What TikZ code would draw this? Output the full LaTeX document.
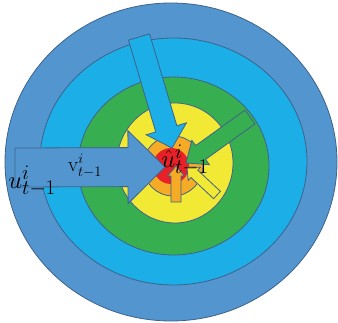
\documentclass[tikz,border=0pt]{standalone}
\usepackage{tikz}
\usetikzlibrary{calc}
\definecolor{outerblue}{RGB}{83,149,207}
\definecolor{skyblue}{RGB}{28,175,231}
\definecolor{ringgreen}{RGB}{55,175,80}
\definecolor{ringyellow}{RGB}{241,233,52}
\definecolor{ringorange}{RGB}{245,171,38}
\definecolor{ringred}{RGB}{232,33,40}
\definecolor{edgeblue}{RGB}{62,98,140}

% block arrow: fill, tail, tip, shaft half width, head half width, head length
\newcommand{\fatarrow}[6]{%
  \coordinate (fa-base) at ($(#3)!#6!(#2)$);
  \filldraw[edge, fill=#1]
    ($(#2)!#4!90:(#3)$) -- ($(fa-base)!#4!-90:(#2)$) -- ($(fa-base)!#5!-90:(#2)$)
    -- (#3) -- ($(fa-base)!#5!90:(#2)$) -- ($(fa-base)!#4!90:(#2)$)
    -- ($(#2)!#4!-90:(#3)$) -- cycle;}

\begin{document}
\begin{tikzpicture}[
    x=1pt, y=-1pt,
    edge/.style={
        draw=edgeblue,
        line width=0.8pt,
        line join=miter
    },
    biglabel/.style={
        inner sep=0pt,
        font=\fontsize{30}{34}\selectfont
    },
    smalllabel/.style={
        inner sep=0pt,
        font=\fontsize{20}{24}\selectfont
    }
]
\useasboundingbox[fill=white] (0,0) rectangle (338,323);

% ---------------- Rings ----------------
\filldraw[edge, fill=outerblue] (171,162) ellipse [x radius=166, y radius=159];
\filldraw[edge, fill=skyblue] (173.5,161.5) ellipse [x radius=133.5, y radius=123.5];
\filldraw[edge, fill=ringgreen] (173.5,166) ellipse [x radius=95.5, y radius=89];
\filldraw[edge, fill=ringyellow] (175,163) ellipse [x radius=58, y radius=60];
\filldraw[edge, fill=ringorange] (173,166) circle [radius=30];
\fill[ringred] (171,166) circle [radius=18];

% ---------------- Arrows ----------------
\coordinate (blue tail) at (15,167.5);
\coordinate (blue tip) at (165,167);
\coordinate (sky tail) at (139,37);
\coordinate (sky tip) at (172,148);
\coordinate (green tail) at (250,117);
\coordinate (green tip) at (186,163);
\coordinate (yellow tail) at (217,195);
\coordinate (yellow tip) at (187,167);
\coordinate (orange tail) at (176,202);
\coordinate (orange tip) at (176,166);

\fatarrow{outerblue}{blue tail}{blue tip}{19.5pt}{36.5pt}{37pt}
\fatarrow{skyblue}{sky tail}{sky tip}{11pt}{21pt}{20pt}
\fatarrow{ringgreen}{green tail}{green tip}{8.5pt}{15pt}{18pt}
\fatarrow{ringyellow}{yellow tail}{yellow tip}{5pt}{9pt}{10pt}
\fatarrow{ringorange}{orange tail}{orange tip}{5pt}{8.5pt}{10pt}

% ---------------- Labels ----------------
\node[biglabel] (u prev) at (32,181) {$u^{i}_{t-1}$};
\node[smalllabel] (v prev) at (85,166) {$\mathrm{v}^{i}_{t-1}$};
\node[biglabel] (u hat) at (185,160) {$\hat{u}^{i}_{t-1}$};

\end{tikzpicture}
\end{document}
